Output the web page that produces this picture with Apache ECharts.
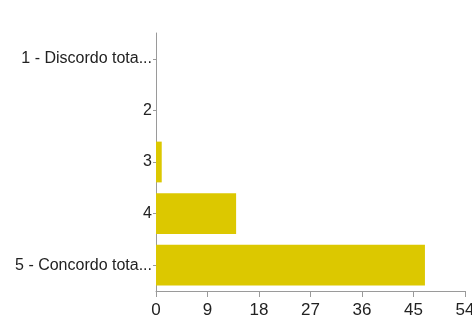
<!DOCTYPE html>
<html lang="it">
<head>
    <meta charset="UTF-8">
    <title>Risposte</title>
    <script src="https://cdn.jsdelivr.net/npm/echarts@6/dist/echarts.min.js"></script>
    <style>
        html, body { margin: 0; padding: 0; background: #fff; }
    </style>
</head>
<body>
    <div id="main" style="width: 472px;height:318px;"></div>

<script>
    // categorie (dall'alto verso il basso)
    var categories = ['1 - Discordo tota...', '2', '3', '4', '5 - Concordo tota...'];
    var counts = [0, 0, 1, 14, 47];
    var xTicks = [0, 9, 18, 27, 36, 45, 54];

    var font = '"Liberation Sans Narrow", "Liberation Sans", Arial, sans-serif';

    var myChart = echarts.init(document.getElementById('main'));
    var option = {
        animation: false,
        grid: {
            left: 156,
            right: 7,
            top: 33,
            bottom: 27,
            outerBoundsMode: 'none',
            containLabel: false
        },
        xAxis: {
            type: 'value',
            min: xTicks[0],
            max: xTicks[xTicks.length - 1],
            interval: 9,
            splitLine: { show: false },
            axisLine: { show: true, lineStyle: { color: '#9a9a9a', width: 1 } },
            axisTick: { show: true, length: 6, lineStyle: { color: '#9a9a9a' } },
            axisLabel: { color: '#222', fontSize: 17, fontFamily: font, margin: 11 }
        },
        yAxis: {
            type: 'category',
            inverse: true,
            data: categories,
            axisLine: { show: true, lineStyle: { color: '#9a9a9a', width: 1 } },
            axisTick: { show: true, alignWithLabel: true, length: 3, lineStyle: { color: '#9a9a9a' } },
            axisLabel: { color: '#222', fontSize: 16, fontFamily: font, margin: 4 }
        },
        series: [
            {
                type: 'bar',
                data: counts,
                barCategoryGap: '21%',
                itemStyle: { color: '#dcc800' }
            }
        ]
    };
    myChart.setOption(option);
</script>
</body>
</html>
